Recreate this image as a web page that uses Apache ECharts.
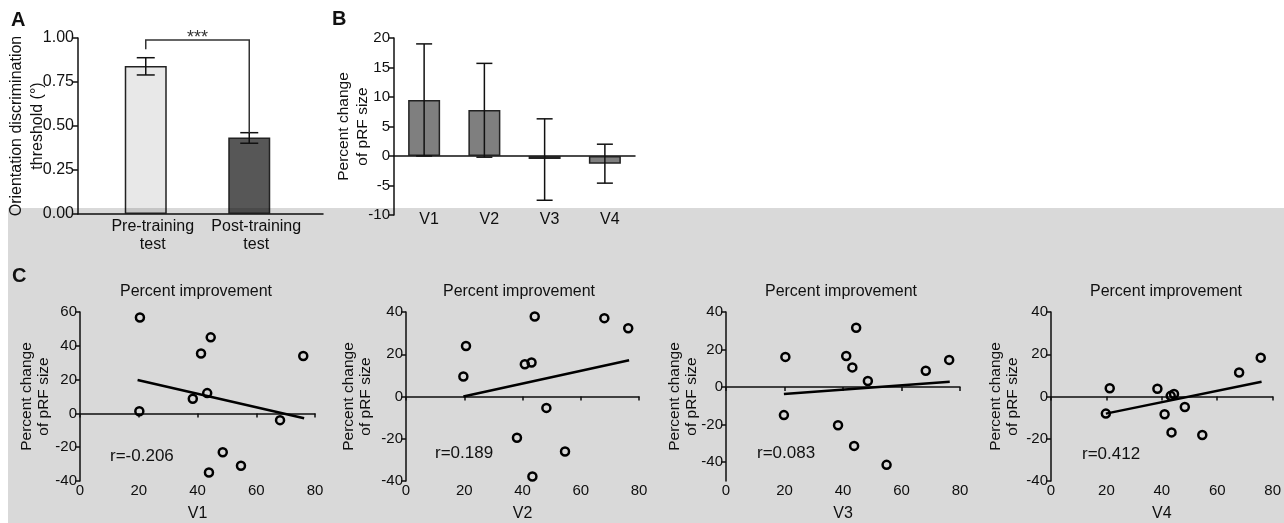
<!DOCTYPE html>
<html>
<head>
<meta charset="utf-8">
<script src="https://cdn.jsdelivr.net/npm/echarts@6/dist/echarts.min.js"></script>
<style>
html,body{margin:0;padding:0;background:#fff}
#main{width:1284px;height:523px}
</style>
</head>
<body>
<div id="main"></div>
<script>
// ---- panel A : discrimination threshold ----
var catA = ['Pre-training\ntest', 'Post-training\ntest'];
var threshA = [0.841, 0.434];
var errA = [[0.79, 0.888], [0.402, 0.462]];
var bracketA = [0.936, 0.989, 0.462];   // left leg end, top, right leg end
var colorA = ['#e8e8e8', '#575757'];

// ---- panel B : percent change of pRF size ----
var catB = ['V1', 'V2', 'V3', 'V4'];
var pctB = [9.5, 7.8, -0.5, -1.3];
var errB = [[0, 19], [-0.2, 15.7], [-7.5, 6.3], [-4.6, 2.0]];

// ---- panel C : improvement vs pRF change ----
var ptsV1 = [[20.4, 56.7], [20.2, 1.3], [38.4, 8.7], [41.2, 35.4], [44.5, 45], [43.3, 12],
             [48.6, -23], [43.9, -35], [54.8, -31], [68.1, -4], [76, 34]];
var ptsV2 = [[19.7, 9.5], [20.6, 23.9], [40.8, 15.3], [43.1, 16.1], [44.2, 37.9], [48.2, -5.4],
             [38.1, -19.5], [54.6, -26], [43.4, -37.9], [68.1, 37.1], [76.3, 32.3]];
var ptsV3 = [[20.3, 16.1], [19.8, -14.9], [41.1, 16.6], [43.2, 10.5], [44.5, 31.6], [48.5, 3.3],
             [38.3, -20.3], [43.8, -31.3], [54.9, -41.4], [68.3, 8.7], [76.3, 14.5]];
var ptsV4 = [[19.8, -8.1], [21.2, 3.9], [38.4, 3.7], [43.2, 0.3], [44.4, 1.2], [41, -8.4],
             [48.3, -5], [43.5, -17], [54.6, -18.2], [67.9, 11.4], [75.7, 18.4]];
var fitV1 = [[19.6, 19.8], [76.3, -2.9]];
var fitV2 = [[19.7, 0], [76.6, 17.2]];
var fitV3 = [[19.8, -3.7], [76.5, 2.8]];
var fitV4 = [[19.8, -8.1], [76, 7]];
var rText = ['r=-0.206', 'r=0.189', 'r=0.083', 'r=0.412'];
var areaNames = ['V1', 'V2', 'V3', 'V4'];

var FONT = 'Liberation Sans, Arial, sans-serif';
var INK = '#111';

var chart = echarts.init(document.getElementById('main'));

function errRender(capW) {
    return function (params, api) {
        var i = api.value(0);
        var lo = api.coord([i, api.value(1)]);
        var hi = api.coord([i, api.value(2)]);
        var h = capW / 2;
        var st = {stroke: INK, lineWidth: 1.5};
        return {type: 'group', children: [
            {type: 'line', shape: {x1: lo[0], y1: lo[1], x2: hi[0], y2: hi[1]}, style: st},
            {type: 'line', shape: {x1: lo[0] - h, y1: lo[1], x2: lo[0] + h, y2: lo[1]}, style: st},
            {type: 'line', shape: {x1: hi[0] - h, y1: hi[1], x2: hi[0] + h, y2: hi[1]}, style: st}
        ]};
    };
}

function yName(text, gap, lh) {
    return {
        name: text, nameLocation: 'middle', nameRotate: 90, nameGap: gap, nameMoveOverlap: false,
        nameTextStyle: {fontSize: 15.5, lineHeight: lh, color: INK, fontFamily: FONT}
    };
}

var axLine = {show: true, lineStyle: {color: INK, width: 1.5}};
var axTick = {show: true, length: 5, lineStyle: {color: INK, width: 1.5}};

// grids
var grids = [
    {left: 78, top: 38, width: 245, height: 176},      // A axis frame
    {left: 94, top: 38, width: 207, height: 176},      // A bars
    {left: 394, top: 38, width: 241, height: 177},     // B
    {left: 80, top: 312, width: 235, height: 171},     // C V1
    {left: 406, top: 312, width: 233, height: 171},    // C V2
    {left: 726, top: 312, width: 234, height: 171},    // C V3
    {left: 1051, top: 312, width: 236, height: 171}    // C V4
];

var xAxes = [
    {gridIndex: 0, type: 'value', min: 0, max: 1, axisLine: axLine, axisTick: {show: false},
     axisLabel: {show: false}, splitLine: {show: false}},
    {gridIndex: 1, type: 'category', data: catA, axisLine: {show: false}, axisTick: {show: false},
     axisLabel: {interval: 0, fontSize: 16, lineHeight: 18, color: INK, fontFamily: FONT, margin: 4, padding: [0, 0, 0, 14]}},
    {gridIndex: 2, type: 'category', data: catB, axisLine: {show: true, onZero: true, lineStyle: {color: INK, width: 1.5}},
     axisTick: {show: false}, axisLabel: {show: false}},
    {gridIndex: 2, type: 'category', data: catB, position: 'bottom', axisLine: {show: false, onZero: false},
     axisTick: {show: false}, axisLabel: {interval: 0, fontSize: 16, color: INK, fontFamily: FONT, margin: -3, padding: [0, 0, 0, 10]}}
];
var yAxes = [
    {gridIndex: 0, type: 'value', min: 0, max: 1, interval: 0.25, axisLine: axLine, axisTick: axTick,
     splitLine: {show: false},
     axisLabel: {fontSize: 16, color: INK, fontFamily: FONT, margin: 4, formatter: function (v) { return v.toFixed(2); }}},
    {gridIndex: 1, type: 'value', min: 0, max: 1, show: false},
    {gridIndex: 2, type: 'value', min: -10, max: 20, interval: 5, axisLine: axLine, axisTick: axTick,
     splitLine: {show: false}, axisLabel: {fontSize: 15, color: INK, fontFamily: FONT, margin: 4}}
];
Object.assign(yAxes[0], {name: 'Orientation discrimination\nthreshold (°)', nameLocation: 'middle', nameRotate: 90,
    nameGap: 30, nameMoveOverlap: false, nameTextStyle: {fontSize: 16, lineHeight: 21, color: INK, fontFamily: FONT}});
Object.assign(yAxes[2], yName('Percent change\nof pRF size', 22, 19));

var series = [
    {type: 'bar', xAxisIndex: 1, yAxisIndex: 1, barWidth: 42,
     data: threshA.map(function (v, i) { return {value: v, itemStyle: {color: colorA[i]}}; }),
     itemStyle: {borderColor: '#222', borderWidth: 1.5}},
    {type: 'custom', xAxisIndex: 1, yAxisIndex: 1, renderItem: errRender(18), z: 5,
     data: errA.map(function (e, i) { return [i, e[0], e[1]]; })},
    {type: 'custom', xAxisIndex: 1, yAxisIndex: 1, z: 5, data: [bracketA],
     renderItem: function (params, api) {
         var a = api.coord([0, api.value(0)]), b = api.coord([0, api.value(1)]);
         var c = api.coord([1, api.value(1)]), d = api.coord([1, api.value(2)]);
         return {type: 'group', children: [
             {type: 'polyline', shape: {points: [a, b, c, d]}, style: {stroke: '#333', lineWidth: 1.5, fill: null}},
             {type: 'text', x: (b[0] + c[0]) / 2, y: b[1] - 2,
              style: {text: '***', font: '18px ' + FONT, fill: '#333', textAlign: 'center', textVerticalAlign: 'middle'}}
         ]};
     }},
    {type: 'bar', xAxisIndex: 2, yAxisIndex: 2, barWidth: 32, data: pctB,
     itemStyle: {color: '#7f7f7f', borderColor: '#222', borderWidth: 1.5}},
    {type: 'custom', xAxisIndex: 2, yAxisIndex: 2, renderItem: errRender(16), z: 5,
     data: errB.map(function (e, i) { return [i, e[0], e[1]]; })}
];

// panel C
var cPts = [ptsV1, ptsV2, ptsV3, ptsV4];
var cFit = [fitV1, fitV2, fitV3, fitV4];
var cY = [{min: -40, max: 60, interval: 20}, {min: -40, max: 40, interval: 20},
          {min: -50, max: 40}, {min: -40, max: 40, interval: 20}];
var cNameGap = [28, 32, 26, 30];
for (var k = 0; k < 4; k++) {
    var g = 3 + k;
    var xi = xAxes.length;
    xAxes.push({gridIndex: g, type: 'value', min: 0, max: 80, interval: 20,
        axisLine: {show: true, onZero: true, lineStyle: {color: INK, width: 1.5}},
        axisTick: {show: true, length: 4, lineStyle: {color: INK, width: 1.5}},
        axisLabel: {show: false}, splitLine: {show: false}});
    xAxes.push({gridIndex: g, type: 'value', min: 0, max: 80, interval: 20, position: 'bottom',
        axisLine: {show: false, onZero: false}, axisTick: {show: false}, splitLine: {show: false},
        axisLabel: {fontSize: 15, color: INK, fontFamily: FONT, margin: 2},
        name: areaNames[k], nameLocation: 'middle', nameGap: 25,
        nameTextStyle: {fontSize: 16, color: INK, fontFamily: FONT}});
    var yi = yAxes.length;
    var ya = Object.assign({gridIndex: g, type: 'value', axisLine: axLine, axisTick: axTick,
        splitLine: {show: false}, axisLabel: {fontSize: 15, color: INK, fontFamily: FONT, margin: 3}},
        cY[k], yName('Percent change\nof pRF size', cNameGap[k], 17));
    if (k === 2) {
        ya.axisLabel.customValues = [-40, -20, 0, 20, 40];
        ya.axisTick = Object.assign({customValues: [-40, -20, 0, 20, 40]}, axTick);
    }
    yAxes.push(ya);
    series.push({type: 'line', xAxisIndex: xi, yAxisIndex: yi, data: cFit[k], symbol: 'none',
        lineStyle: {color: '#000', width: 2.5}, z: 3});
    series.push({type: 'scatter', xAxisIndex: xi, yAxisIndex: yi, data: cPts[k], symbol: 'circle',
        symbolSize: 8, itemStyle: {color: 'rgba(0,0,0,0)', borderColor: '#000', borderWidth: 2.5, opacity: 1}, z: 4});
}

function txt(x, y, s, size, weight, align) {
    return {type: 'text', x: x, y: y, z: 110,
        style: {text: s, font: (weight || 'normal') + ' ' + size + 'px ' + FONT, fill: INK,
                textAlign: align || 'left', textVerticalAlign: 'middle'}};
}

var graphics = [
    {type: 'rect', shape: {x: 8, y: 208, width: 1276, height: 315}, z: 100, silent: true,
     style: {fill: '#d9d9d9', blend: 'multiply'}},
    txt(11, 20, 'A', 20, 'bold'),
    txt(332, 19, 'B', 20, 'bold'),
    txt(12, 276, 'C', 20, 'bold')
];
var titleX = [196, 519, 841, 1166];
var rX = [110, 435, 757, 1082];
var rY = [456, 453, 453, 454];
for (var j = 0; j < 4; j++) {
    graphics.push(txt(titleX[j], 292, 'Percent improvement', 16, 'normal', 'center'));
    graphics.push(txt(rX[j], rY[j], rText[j], 17));
}

chart.setOption({
    backgroundColor: '#fff',
    animation: false,
    textStyle: {fontFamily: FONT, color: INK},
    grid: grids,
    xAxis: xAxes,
    yAxis: yAxes,
    series: series,
    graphic: graphics
});
</script>
</body>
</html>
